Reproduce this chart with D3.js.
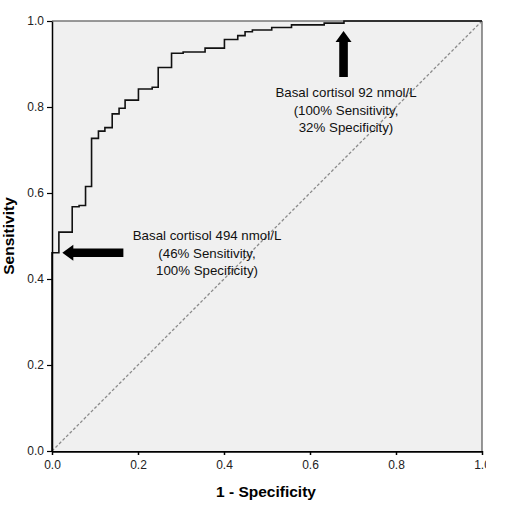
<!DOCTYPE html>
<html>
<head>
<meta charset="utf-8">
<script src="https://cdn.jsdelivr.net/npm/d3@7"></script>
<style>
  body { margin: 0; background: #fff; }
  text { font-family: "Liberation Sans", Arial, sans-serif; }
</style>
</head>
<body>
<div id="chart"></div>
<script>
// ROC steps: [1 - specificity, sensitivity]
const rocFpr  = [0, 0, 0.016, 0.016, 0.047, 0.047, 0.063, 0.063, 0.078, 0.078, 0.092, 0.092,
                 0.108, 0.108, 0.123, 0.123, 0.140, 0.140, 0.156, 0.156, 0.170, 0.170, 0.201, 0.201,
                 0.233, 0.233, 0.247, 0.247, 0.278, 0.278, 0.305, 0.305, 0.356, 0.356, 0.401, 0.401,
                 0.432, 0.432, 0.449, 0.449, 0.466, 0.466, 0.511, 0.511, 0.557, 0.557, 0.633, 0.633,
                 0.679, 0.679, 1.0];
const rocSens = [0, 0.461, 0.461, 0.509, 0.509, 0.568, 0.568, 0.571, 0.571, 0.615, 0.615, 0.727,
                 0.727, 0.744, 0.744, 0.752, 0.752, 0.784, 0.784, 0.797, 0.797, 0.816, 0.816, 0.842,
                 0.842, 0.846, 0.846, 0.892, 0.892, 0.925, 0.925, 0.928, 0.928, 0.937, 0.937, 0.957,
                 0.957, 0.966, 0.966, 0.975, 0.975, 0.979, 0.979, 0.985, 0.985, 0.991, 0.991, 0.995,
                 0.995, 1.0, 1.0];
const tickValues = [0, 0.2, 0.4, 0.6, 0.8, 1.0];
const noteHigh = ["Basal cortisol 494 nmol/L", "(46% Sensitivity,", "100% Specificity)"];
const noteLow  = ["Basal cortisol 92 nmol/L", "(100% Sensitivity,", "32% Specificity)"];

const width = 512, height = 519;
const margin = { top: 21, right: 30, bottom: 68, left: 52 };
const pw = width - margin.left - margin.right;
const ph = height - margin.top - margin.bottom;

const svg = d3.select("#chart").append("svg")
    .attr("width", width)
    .attr("height", height);

const x = d3.scaleLinear().domain([0, 1]).range([margin.left, margin.left + pw]);
const y = d3.scaleLinear().domain([0, 1]).range([margin.top + ph, margin.top]);

// plot background and frame
svg.append("rect")
    .attr("x", x(0)).attr("y", y(1))
    .attr("width", pw).attr("height", ph)
    .attr("fill", "#f0f0f0");
svg.append("line")
    .attr("x1", x(0)).attr("x2", x(1)).attr("y1", y(1)).attr("y2", y(1))
    .attr("stroke", "#777").attr("stroke-width", 1.5);
svg.append("line")
    .attr("x1", x(1)).attr("x2", x(1)).attr("y1", y(1)).attr("y2", y(0))
    .attr("stroke", "#333").attr("stroke-width", 1);

// reference diagonal
svg.append("line")
    .attr("x1", x(0)).attr("y1", y(0)).attr("x2", x(1)).attr("y2", y(1))
    .attr("stroke", "#8a8a8a").attr("stroke-width", 1.3)
    .attr("stroke-dasharray", "3,2");

// ROC curve
const pts = rocFpr.map(function(d, i) { return [d, rocSens[i]]; });
svg.append("path")
    .datum(pts)
    .attr("fill", "none")
    .attr("stroke", "#111")
    .attr("stroke-width", 1.6)
    .attr("d", d3.line().x(function(d) { return x(d[0]); }).y(function(d) { return y(d[1]); }));

// axes
const clip = svg.append("clipPath").attr("id", "xclip");
clip.append("rect").attr("x", 0).attr("y", 0).attr("width", 486).attr("height", height);

const xAxis = svg.append("g")
    .attr("transform", "translate(0," + y(0) + ")")
    .attr("clip-path", "url(#xclip)")
    .call(d3.axisBottom(x).tickValues(tickValues).tickFormat(d3.format(".1f")).tickSize(4).tickSizeOuter(0));
xAxis.select(".domain").attr("stroke", "#000").attr("stroke-width", 2.5);
xAxis.selectAll(".tick line").attr("stroke", "#000").attr("stroke-width", 1.5);
xAxis.selectAll(".tick text").attr("font-size", 12).attr("fill", "#222").attr("dy", "0.95em")
    .attr("font-family", "'Liberation Sans', Arial, sans-serif");

const yAxis = svg.append("g")
    .attr("transform", "translate(" + x(0) + ",0)")
    .call(d3.axisLeft(y).tickValues(tickValues).tickFormat(d3.format(".1f")).tickSize(5).tickSizeOuter(0));
yAxis.select(".domain").attr("stroke", "#000").attr("stroke-width", 1.5);
yAxis.selectAll(".tick line").attr("stroke", "#000").attr("stroke-width", 1.2);
yAxis.selectAll(".tick text").attr("font-size", 12).attr("fill", "#222").attr("x", -8)
    .attr("font-family", "'Liberation Sans', Arial, sans-serif");

// axis titles
svg.append("text")
    .attr("x", x(0.5) - 1).attr("y", 497)
    .attr("text-anchor", "middle")
    .attr("font-size", 15.5).attr("font-weight", "bold")
    .text("1 - Specificity");
svg.append("text")
    .attr("transform", "translate(14," + y(0.5) + ") rotate(-90)")
    .attr("text-anchor", "middle")
    .attr("font-size", 15.5).attr("font-weight", "bold")
    .text("Sensitivity");

// arrows
function arrow(x1, y1, x2, y2) {
    const g = svg.append("g");
    const ang = Math.atan2(y2 - y1, x2 - x1);
    const len = Math.hypot(x2 - x1, y2 - y1);
    const head = 11, hw = 8, sw = 4.3;
    g.attr("transform", "translate(" + x2 + "," + y2 + ") rotate(" + (ang * 180 / Math.PI) + ")");
    g.append("path")
        .attr("d", "M0,0 L" + (-head) + "," + (-hw) + " L" + (-head) + "," + (-sw) +
              " L" + (-len) + "," + (-sw) + " L" + (-len) + "," + sw +
              " L" + (-head) + "," + sw + " L" + (-head) + "," + hw + " Z")
        .attr("fill", "#000");
}
arrow(x(0.166), y(0.461), x(0.024), y(0.461));
arrow(x(0.678), y(0.87), x(0.678), y(0.977));

// annotations
function note(lines, cx, top) {
    const t = svg.append("text")
        .attr("text-anchor", "middle")
        .attr("font-size", 13.3).attr("fill", "#111");
    lines.forEach(function(s, i) {
        t.append("tspan").attr("x", cx).attr("y", top + i * 17.5).text(s);
    });
}
note(noteHigh, 207, 240);
note(noteLow, 346, 97);
</script>
</body>
</html>
